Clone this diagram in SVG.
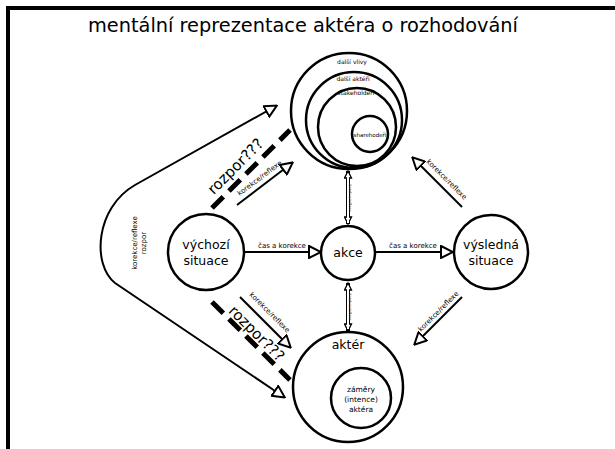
<svg xmlns="http://www.w3.org/2000/svg" width="615" height="449" viewBox="0 0 615 449">
<style>
text{font-family:"DejaVu Sans","Verdana",sans-serif;fill:#000}
.c{fill:none;stroke:#000;stroke-width:2.5}
.l{fill:none;stroke:#000;stroke-width:2}
.d{fill:none;stroke:#000;stroke-width:5;stroke-dasharray:16 8}
.lab{font-size:7px;text-anchor:middle}
.big{font-size:12.5px;text-anchor:middle}
.tiny{font-size:3.5px;text-anchor:middle;fill:#444}
</style>
<defs>
<marker id="ah" markerUnits="userSpaceOnUse" markerWidth="14" markerHeight="14" viewBox="-1 -1 14 14" refX="11" refY="6" orient="auto-start-reverse">
<path d="M0,0 L12,6 L0,12 Z" fill="#fff" stroke="#000" stroke-width="2"/>
</marker>
<marker id="as" markerUnits="userSpaceOnUse" markerWidth="9" markerHeight="9" viewBox="-1 -1 9 9" refX="7" refY="3.5" orient="auto-start-reverse">
<path d="M0,0 L7,3.5 L0,7 Z" fill="#fff" stroke="#000" stroke-width="1.3"/>
</marker>
</defs>
<rect width="615" height="449" fill="#fff"/>
<path d="M8,449 V8 H615" fill="none" stroke="#000" stroke-width="4"/>
<text x="303" y="32" textLength="430" lengthAdjust="spacingAndGlyphs" style="font-size:19.5px;text-anchor:middle">mentální reprezentace aktéra o rozhodování</text>

<g id="connectors">
<line class="l" x1="244" y1="252" x2="320" y2="252" marker-end="url(#ah)"/>
<text class="lab" x="282" y="248">čas a korekce</text>
<line class="l" x1="376" y1="252" x2="452" y2="252" marker-end="url(#ah)"/>
<text class="lab" x="413" y="248">čas a korekce</text>

<line x1="348" y1="224" x2="348" y2="171" stroke="#000" stroke-width="4" marker-start="url(#as)" marker-end="url(#as)"/>
<line x1="348" y1="223" x2="348" y2="174" stroke="#fff" stroke-width="2"/>
<text class="tiny" transform="translate(349.2,198) rotate(90)">korekce/reflexe</text>
<line x1="348" y1="283" x2="348" y2="331" stroke="#000" stroke-width="4" marker-start="url(#as)" marker-end="url(#as)"/>
<line x1="348" y1="286" x2="348" y2="329" stroke="#fff" stroke-width="2"/>
<text class="tiny" transform="translate(349.2,307) rotate(90)">korekce/reflexe</text>

<line class="l" x1="237" y1="205" x2="292" y2="163" marker-end="url(#ah)"/>
<text class="lab" transform="translate(261,180) rotate(-37)">korekce/reflexe</text>
<line class="d" x1="212" y1="208" x2="290" y2="130"/>
<text transform="translate(239,170) rotate(-45)" style="font-size:15px;text-anchor:middle">rozpor???</text>

<line class="l" x1="240" y1="297" x2="290" y2="347" marker-end="url(#ah)"/>
<text class="lab" transform="translate(268,314) rotate(45)">korekce/reflexe</text>
<line class="d" x1="212" y1="302" x2="290" y2="380"/>
<text transform="translate(253,337) rotate(45)" style="font-size:15px;text-anchor:middle">rozpor???</text>

<line class="l" x1="462" y1="207" x2="413" y2="158" marker-end="url(#ah)"/>
<text class="lab" transform="translate(445,181) rotate(45)">korekce/reflexe</text>
<line class="l" x1="462" y1="297" x2="415" y2="344" marker-end="url(#ah)"/>
<text class="lab" transform="translate(440,313) rotate(-45)">korekce/reflexe</text>

<path class="l" d="M276,106 L135,185 C95,208 92,265 115,283 L284,397" marker-start="url(#ah)" marker-end="url(#ah)"/>
<text class="lab" transform="translate(137,243) rotate(-90)">korekce/reflexe</text>
<text class="lab" transform="translate(146,243) rotate(-90)">rozpor</text>
</g>

<g id="mental">
<circle class="c" cx="349" cy="111" r="58"/>
<circle class="c" cx="354" cy="120" r="48"/>
<circle class="c" cx="357" cy="127" r="39"/>
<circle class="c" cx="370" cy="134" r="18"/>
<text x="352" y="64" style="font-size:6px;text-anchor:middle">další vlivy</text>
<text x="353" y="81" style="font-size:6px;text-anchor:middle">další aktéři</text>
<text x="356" y="95" style="font-size:6px;text-anchor:middle">stakeholdeři</text>
<text x="370" y="137" style="font-size:5.5px;text-anchor:middle">sharehodeři</text>
</g>

<g id="vychozi">
<circle class="c" cx="206" cy="252" r="38"/>
<text class="big" x="206" y="249">výchozí</text>
<text class="big" x="206" y="265">situace</text>
</g>

<g id="akce">
<circle class="c" cx="348" cy="253" r="27"/>
<text class="big" x="348" y="257">akce</text>
</g>

<g id="vysledna">
<circle class="c" cx="491" cy="252" r="37"/>
<text class="big" x="491" y="249">výsledná</text>
<text class="big" x="491" y="265">situace</text>
</g>

<g id="akter">
<circle class="c" cx="348" cy="387" r="55"/>
<text class="big" x="348" y="349">aktér</text>
<circle class="c" cx="361" cy="398" r="30"/>
<text x="361" y="392" style="font-size:7.5px;text-anchor:middle">záměry</text>
<text x="361" y="402" style="font-size:7.5px;text-anchor:middle">(intence)</text>
<text x="361" y="412" style="font-size:7.5px;text-anchor:middle">aktéra</text>
</g>
</svg>
